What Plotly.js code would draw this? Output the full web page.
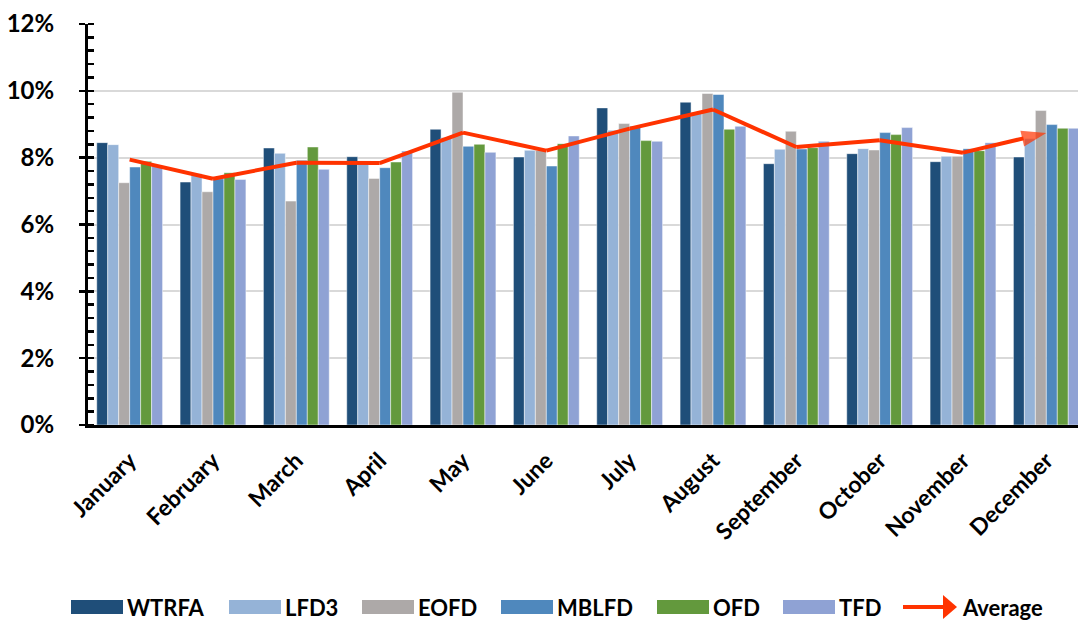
<!DOCTYPE html>
<html>
<head>
<meta charset="utf-8">
<script src="https://cdn.plot.ly/plotly-3.0.1.min.js"></script>
<style>html,body{margin:0;padding:0;background:#fff;}#chart{width:1078px;height:620px;}</style>
</head>
<body>
<div id="chart"></div>
<script>
const months = ["January","February","March","April","May","June","July","August","September","October","November","December"];
const WTRFA = [8.45,7.27,8.29,8.03,8.85,8.02,9.49,9.66,7.82,8.12,7.88,8.02];
const LFD3  = [8.39,7.52,8.13,7.90,8.60,8.22,8.82,9.35,8.25,8.27,8.04,8.57];
const EOFD  = [7.25,6.98,6.70,7.38,9.96,8.22,9.02,9.92,8.79,8.23,8.04,9.41];
const MBLFD = [7.72,7.37,7.92,7.70,8.34,7.75,8.94,9.89,8.26,8.75,8.27,8.99];
const OFD   = [7.89,7.55,8.32,7.87,8.40,8.42,8.51,8.85,8.30,8.69,8.21,8.88];
const TFD   = [7.75,7.35,7.65,8.20,8.16,8.65,8.49,8.94,8.49,8.90,8.45,8.88];
const AVERAGE = [7.94,7.37,7.85,7.84,8.75,8.21,8.87,9.44,8.32,8.52,8.15,8.74];
const yTicks = [0,2,4,6,8,10,12];

const seriesNames = ["WTRFA","LFD3","EOFD","MBLFD","OFD","TFD"];
const avgName = "Average";
const seriesData = [WTRFA,LFD3,EOFD,MBLFD,OFD,TFD];
const colors = ["#1F4E79","#95B3D7","#ADA9A8","#4F88BD","#63993D","#8FA2D4"];
const avgColor = "#FF3300";

const traces = seriesData.map((d,i)=>({
  type:"bar", name:seriesNames[i], x:months, y:d.map(v=>v/100),
  marker:{color:colors[i], line:{color:"rgba(255,255,255,0.6)", width:0.8}},
  hoverinfo:"skip", showlegend:false
}));
const last = AVERAGE.length-1;
traces.push({
  type:"scatter", mode:"lines+markers", name:avgName, x:months, y:AVERAGE.map(v=>v/100),
  line:{color:avgColor, width:4},
  marker:{symbol:AVERAGE.map((v,i)=>i===last?"arrow":"circle"),
          size:AVERAGE.map((v,i)=>i===last?26:0.1),
          angleref:"previous", color:avgColor, line:{width:0}},
  hoverinfo:"skip", showlegend:false
});
// extra axis so major ticks cross the y axis line
traces.push({type:"scatter", x:[months[0]], y:[0], yaxis:"y2", mode:"markers", marker:{size:0.1,opacity:0}, showlegend:false, hoverinfo:"skip"});

const font = "Lato, 'Open Sans', sans-serif";

// manual legend (paper coordinates; plot area spans px 88..1078 horizontally, 24..425 vertically)
const plotL = 88, plotW = 990, plotT = 24, plotH = 401;
const px = x => (x - plotL)/plotW;
const py = y => (plotT + plotH - y)/plotH;
const swatchLeft = [71,229,362,501,657,783];
const legendY = 607;
const legendFont = {size:22, family:font, weight:"bold", color:"#000"};
const shapes = [];
const annotations = [];
swatchLeft.forEach((l,i)=>{
  shapes.push({type:"rect", xref:"paper", yref:"paper", x0:px(l), x1:px(l+52), y0:py(legendY+7), y1:py(legendY-7),
    fillcolor:colors[i], line:{width:0}, layer:"above"});
  annotations.push({xref:"paper", yref:"paper", x:px(l+55), y:py(legendY), xanchor:"left", yanchor:"middle",
    text:seriesNames[i], showarrow:false, font:legendFont, borderpad:0});
});
const arrowL = 903, arrowR = 957;
shapes.push({type:"line", xref:"paper", yref:"paper", x0:px(arrowL), x1:px(arrowR-12), y0:py(legendY), y1:py(legendY),
  line:{color:avgColor, width:4}});
shapes.push({type:"path", xref:"paper", yref:"paper",
  path:`M ${px(arrowR-14)} ${py(legendY-12)} L ${px(arrowR)} ${py(legendY)} L ${px(arrowR-14)} ${py(legendY+12)} Z`,
  fillcolor:avgColor, line:{width:0}});
annotations.push({xref:"paper", yref:"paper", x:px(arrowR+4), y:py(legendY), xanchor:"left", yanchor:"middle",
  text:avgName, showarrow:false, font:legendFont, borderpad:0});

const layout = {
  width:1078, height:620,
  margin:{l:plotL, r:0, t:plotT, b:620-plotT-plotH},
  paper_bgcolor:"#fff", plot_bgcolor:"#fff",
  barmode:"group", bargap:0.21, bargroupgap:0,
  font:{family:font, color:"#000"},
  xaxis:{
    type:"category", range:[-0.5, 11.38], automargin:false,
    tickangle:-45, tickfont:{size:23, family:font, weight:"bold"},
    showline:true, linecolor:"#000", linewidth:3,
    ticks:"", showgrid:false, zeroline:false, fixedrange:true, ticklabelstandoff:10
  },
  yaxis:{
    range:[0,0.12], tickvals:yTicks.map(v=>v/100), automargin:false,
    tickformat:".0%", tickfont:{size:24, family:font, weight:"bold"},
    showline:true, linecolor:"#000", linewidth:3,
    ticks:"outside", ticklen:6, tickwidth:2.5, tickcolor:"#000",
    minor:{dtick:0.004, ticks:"inside", ticklen:6, tickwidth:2.5, tickcolor:"#000", showgrid:false},
    showgrid:true, gridcolor:"#D9D9D9", gridwidth:2,
    zeroline:false, fixedrange:true, ticklabelstandoff:20
  },
  yaxis2:{
    overlaying:"y", side:"left", range:[0,0.12], automargin:false,
    tickvals:yTicks.map(v=>v/100), ticks:"inside", ticklen:6, tickwidth:2.5, tickcolor:"#000",
    showticklabels:false, showgrid:false, zeroline:false, showline:false, fixedrange:true
  },
  shapes:shapes,
  annotations:annotations,
  showlegend:false
};

Plotly.newPlot("chart", traces, layout, {displayModeBar:false, staticPlot:true});
</script>
</body>
</html>
